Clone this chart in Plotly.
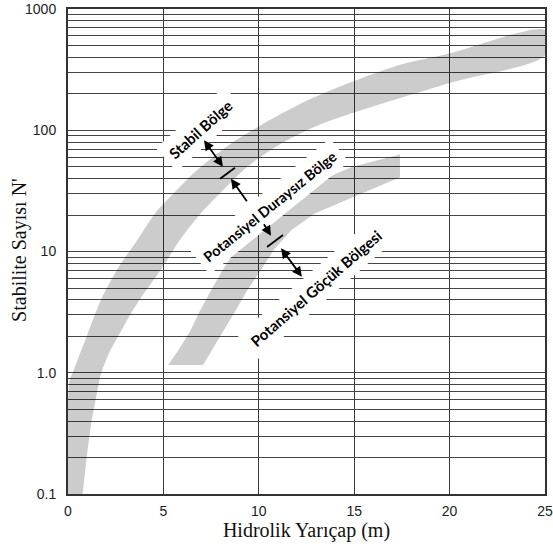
import plotly.graph_objects as go

# ---------------- data ----------------
X_TICKS = [0, 5, 10, 15, 20, 25]
X_TICK_LABELS = ["0", "5", "10", "15", "20", "25"]
Y_DECADES = [0.1, 1, 10, 100, 1000]
Y_DECADE_LABELS = ["0.1", "1.0", "10", "100", "1000"]

# upper band (Stabil / Potansiyel Duraysız boundary)
UPPER_TOP_X = [0, 0, 0.1, 0.25, 0.6, 0.98, 1.42, 1.76, 2.6, 3.67, 4.6, 5.6, 6.7, 8.4, 10.1, 12.5, 15.0, 17.5, 20.0, 25.0]
UPPER_TOP_Y = [0.1, 0.6, 0.89, 1.0, 1.4, 2.0, 3.05, 4.1, 7.2, 12.7, 21, 31, 46, 75, 110, 175, 255, 350, 430, 670]
UPPER_BOT_X = [0.77, 0.98, 1.24, 1.45, 1.75, 2.15, 2.63, 3.25, 3.8, 4.9, 5.9, 7.0, 8.2, 9.4, 11.0, 13.0, 15.0, 20.0, 25.0]
UPPER_BOT_Y = [0.1, 0.2, 0.4, 0.6, 1.0, 1.45, 2.0, 3.0, 4.1, 7.2, 12.7, 21, 33, 50, 75, 108, 140, 245, 415]

# lower band (Potansiyel Duraysız / Potansiyel Göçük boundary)
LOWER_TOP_X = [5.25, 5.8, 6.4, 6.9, 7.5, 8.1, 8.8, 9.8, 11.0, 12.8, 14.9, 17.4]
LOWER_TOP_Y = [1.16, 1.55, 2.2, 3.2, 4.8, 7.0, 10.4, 16, 24, 36, 50, 63]
LOWER_BOT_X = [7.08, 7.6, 8.2, 8.8, 9.4, 10.1, 10.8, 11.7, 12.9, 14.9, 17.4]
LOWER_BOT_Y = [1.16, 1.6, 2.3, 3.3, 4.8, 7.0, 10.4, 15, 20.5, 28, 41]

# -------------------------------------
grid_y = []
grid_text = []
for d, lab in zip(Y_DECADES, Y_DECADE_LABELS):
    grid_y.append(d)
    grid_text.append(lab)
    if d < 1000:
        for m in range(2, 10):
            grid_y.append(d * m)
            grid_text.append("")

BAND_FILL = "rgba(0,0,0,0.2)"

fig = go.Figure()
fig.add_trace(go.Scatter(
    x=UPPER_TOP_X + UPPER_BOT_X[::-1],
    y=UPPER_TOP_Y + UPPER_BOT_Y[::-1],
    fill="toself", fillcolor=BAND_FILL, mode="lines",
    line=dict(width=0, shape="spline", smoothing=0.8),
    hoverinfo="skip"))
fig.add_trace(go.Scatter(
    x=LOWER_TOP_X + LOWER_BOT_X[::-1],
    y=LOWER_TOP_Y + LOWER_BOT_Y[::-1],
    fill="toself", fillcolor=BAND_FILL, mode="lines", line=dict(width=0),
    hoverinfo="skip"))

labels = [
    ("<b>Stabil Bölge</b>", 6.95, 2.01, -42, 15),
    ("<b>Potansiyel Duraysız Bölge</b>", 10.59, 1.369, -39, 14.5),
    ("<b>Potansiyel Göçük Bölgesi</b>", 13.0, 0.70, -41, 15),
]
for txt, x, ly, ang, fs in labels:
    fig.add_annotation(x=x, y=ly, xref="x", yref="y", text=txt, showarrow=False,
                       textangle=ang, bgcolor="white", borderpad=6,
                       font=dict(family="Lato, Open Sans, sans-serif", size=fs, color="black"))

# arrows: (head x, head log10 y, ax px, ay px, double?)
arrows = [
    (8.12, 1.699, -20, -28, True),
    (8.54, 1.600, 17, 24, False),
    (10.64, 1.13, -8, -13, False),
    (12.26, 0.792, -22, -30, True),
]
for x, ly, ax, ay, dbl in arrows:
    fig.add_annotation(x=x, y=ly, xref="x", yref="y", text="", showarrow=True,
                       ax=ax, ay=ay, arrowhead=2, startarrowhead=2, arrowsize=1.1,
                       startarrowsize=1.1, arrowwidth=1.8, arrowcolor="black",
                       arrowside="end+start" if dbl else "end", standoff=0, startstandoff=0)

# boundary tick marks
ticks = [((7.97, 39.8), (8.75, 49.1)), ((10.43, 10.9), (11.27, 13.7))]
for (x0, y0), (x1, y1) in ticks:
    fig.add_shape(type="line", xref="x", yref="y", x0=x0, y0=y0, x1=x1, y1=y1,
                  line=dict(color="black", width=1.8), layer="above")

# y-axis title
fig.add_annotation(xref="paper", yref="paper", x=-0.103, y=0.503, text="Stabilite Sayısı N'",
                   showarrow=False, textangle=-90, xanchor="center", yanchor="middle",
                   font=dict(family="Liberation Serif, Times New Roman, serif", size=20, color="#111"))

axis_line = "#333333"
fig.update_xaxes(range=[0, 25], tickvals=X_TICKS, ticktext=X_TICK_LABELS,
                 showgrid=True, gridcolor="#3a3a3a", gridwidth=1,
                 showline=True, linecolor=axis_line, linewidth=2, mirror=True,
                 zeroline=False, ticks="", ticklabelstandoff=3,
                 tickfont=dict(family="Liberation Sans Narrow, Liberation Sans, Arial", size=14, color="#222"),
                 title=dict(text="Hidrolik Yarıçap (m)", standoff=5,
                            font=dict(family="Liberation Serif, Times New Roman, serif", size=20, color="#111")))
fig.update_yaxes(type="log", range=[-1, 3], tickvals=grid_y, ticktext=grid_text,
                 showgrid=True, gridcolor="#444444", gridwidth=1,
                 showline=True, linecolor=axis_line, linewidth=2, mirror=True,
                 zeroline=False, ticks="", ticklabelstandoff=7,
                 tickfont=dict(family="Liberation Sans Narrow, Liberation Sans, Arial", size=14, color="#222"))

fig.update_layout(width=553, height=551, margin=dict(l=68, r=8, t=9, b=57, autoexpand=False),
                  plot_bgcolor="white", paper_bgcolor="white", showlegend=False)

fig.write_html("out.html")
